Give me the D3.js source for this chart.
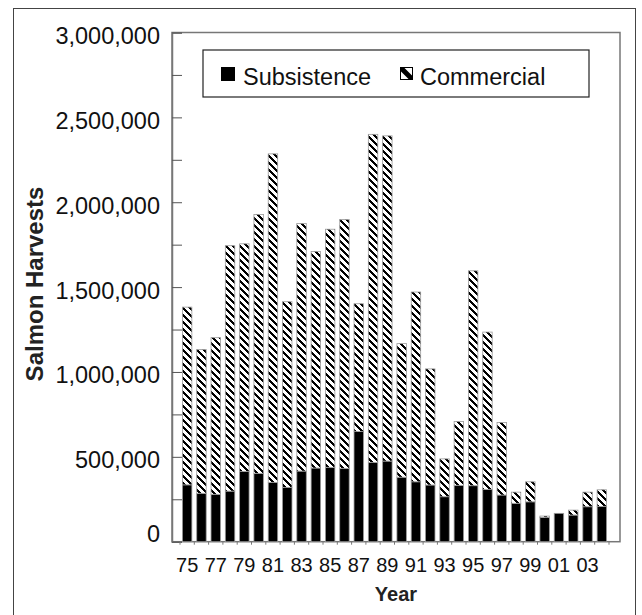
<!DOCTYPE html>
<html>
<head>
<meta charset="utf-8">
<script src="https://cdn.jsdelivr.net/npm/d3@7"></script>
<style>
  html, body { margin: 0; padding: 0; background: #fff; }
  svg { display: block; font-family: Arial, "Liberation Sans", Helvetica, sans-serif; }
</style>
</head>
<body>
<svg id="chart" width="642" height="615"></svg>
<script>
// ---- data ----
const years = ["75","76","77","78","79","80","81","82","83","84","85","86","87","88","89",
               "90","91","92","93","94","95","96","97","98","99","00","01","02","03","04"];
const subsistence = [335000, 285000, 279000, 298000, 414000, 402000, 349000, 320000, 416000, 434000,
                     438000, 432000, 649000, 467000, 475000, 380000, 353000, 334000, 265000, 332000,
                     330000, 308000, 275000, 226000, 235000, 143000, 167000, 157000, 206000, 208000];
const commercial  = [1047000, 847000, 923000, 1446000, 1341000, 1526000, 1936000, 1094000, 1459000, 1276000,
                     1403000, 1466000, 753000, 1933000, 1916000, 787000, 1118000, 684000, 223000, 376000,
                     1266000, 927000, 427000, 66000, 118000, 8000, 0, 29000, 86000, 98000];
const seriesNames = ["Subsistence", "Commercial"];
const yTickValues = [0, 250000, 500000, 750000, 1000000, 1250000, 1500000, 1750000, 2000000,
                     2250000, 2500000, 2750000, 3000000];
const yLabelValues = [0, 500000, 1000000, 1500000, 2000000, 2500000, 3000000];
const xLabelYears = ["75","77","79","81","83","85","87","89","91","93","95","97","99","01","03"];

// ---- layout ----
const svg = d3.select("#chart");
const plot = { left: 172, right: 620, top: 32.5, bottom: 541.7 };

// crisp pixel hatch: "\" stripes, 7px period, 3px black
const defs = svg.append("defs");
const P = 7;
const pat = defs.append("pattern")
  .attr("id", "hatch").attr("patternUnits", "userSpaceOnUse")
  .attr("width", P).attr("height", P);
pat.append("rect").attr("width", P).attr("height", P).attr("fill", "#fff");
const cells = [];
d3.range(P).forEach(r => d3.range(3).forEach(k => cells.push([(r + k) % P, r])));
pat.selectAll("rect.px").data(cells).join("rect").attr("class", "px")
  .attr("x", d => d[0]).attr("y", d => d[1]).attr("width", 1).attr("height", 1)
  .attr("fill", "#000").attr("shape-rendering", "crispEdges");

// outer border
svg.append("rect").attr("x", 13.5).attr("y", 8.5).attr("width", 622).attr("height", 620)
  .attr("fill", "none").attr("stroke", "#444").attr("stroke-width", 1);

const x = d3.scaleBand().domain(years).range([180, 609]).paddingInner(0.34).paddingOuter(0.17);
const y = d3.scaleLinear().domain([0, 3000000]).range([plot.bottom, plot.top]);

const rows = years.map((yr, i) => ({ year: yr, Subsistence: subsistence[i], Commercial: commercial[i] }));
const stacked = d3.stack().keys(seriesNames)(rows);

// plot frame
svg.append("rect").attr("x", plot.left).attr("y", plot.top)
  .attr("width", plot.right - plot.left).attr("height", plot.bottom - plot.top)
  .attr("fill", "none").attr("stroke", "#777").attr("stroke-width", 1.5);

// bars
const fills = { Subsistence: "#000", Commercial: "url(#hatch)" };
svg.append("g").selectAll("g").data(stacked).join("g")
  .attr("fill", d => fills[d.key])
  .selectAll("rect").data(d => d.filter(p => p[1] - p[0] > 0)).join("rect")
  .attr("x", d => x(d.data.year))
  .attr("width", x.bandwidth())
  .attr("y", d => y(d[1]))
  .attr("height", d => y(d[0]) - y(d[1]))
  .attr("stroke", "#999").attr("stroke-width", 0.8);

// y axis
const yAxis = svg.append("g").attr("transform", `translate(${plot.left},0)`)
  .call(d3.axisRight(y).tickValues(yTickValues).tickSize(10).tickFormat(""));
yAxis.select(".domain").attr("stroke", "#777").attr("stroke-width", 1.5);
yAxis.selectAll(".tick line").attr("stroke", "#555");

svg.append("g").selectAll("text").data(yLabelValues).join("text")
  .attr("x", 160)
  .attr("y", d => d === 0 ? y(d) : y(d) + 11.5)
  .attr("text-anchor", "end")
  .attr("font-size", 23.5)
  .attr("fill", "#111")
  .text(d => d3.format(",")(d));

// x axis ticks at category boundaries
const step = x.step();
const gap = step - x.bandwidth();
const boundaries = years.map(yr => x(yr) - gap / 2).concat([x(years[years.length - 1]) + x.bandwidth() + gap / 2]);
svg.append("g").selectAll("line").data(boundaries).join("line")
  .attr("x1", d => d).attr("x2", d => d)
  .attr("y1", plot.bottom).attr("y2", plot.bottom + 3)
  .attr("stroke", "#777").attr("stroke-width", 1);

svg.append("g").selectAll("text").data(xLabelYears).join("text")
  .attr("x", d => x(d) + x.bandwidth() / 2)
  .attr("y", 572)
  .attr("text-anchor", "middle")
  .attr("font-size", 20)
  .attr("fill", "#111")
  .text(d => d);

// axis titles
svg.append("text")
  .attr("x", (plot.left + plot.right) / 2).attr("y", 601)
  .attr("text-anchor", "middle").attr("font-size", 20).attr("font-weight", "bold")
  .attr("fill", "#222")
  .text("Year");
svg.append("text")
  .attr("transform", "translate(43,284) rotate(-90)")
  .attr("text-anchor", "middle").attr("font-size", 24).attr("font-weight", "bold")
  .attr("fill", "#222")
  .text("Salmon Harvests");

// legend
const lg = svg.append("g");
lg.append("rect").attr("x", 203).attr("y", 50).attr("width", 386).attr("height", 47)
  .attr("fill", "#fff").attr("stroke", "#222").attr("stroke-width", 1.2);
lg.append("rect").attr("x", 221).attr("y", 67).attr("width", 14).attr("height", 14).attr("fill", "#000");
lg.append("text").attr("x", 243).attr("y", 84.5).attr("font-size", 23.5).attr("fill", "#111").text(seriesNames[0]);
lg.append("rect").attr("x", 400.5).attr("y", 67.5).attr("width", 12).attr("height", 12)
  .attr("fill", "#fff").attr("stroke", "#000").attr("stroke-width", 1);
lg.append("path").attr("d", "M400.5,67.5 L404,67.5 L412.5,76 L412.5,79.5 L409,79.5 L400.5,71 Z").attr("fill", "#000");
lg.append("text").attr("x", 420).attr("y", 84.5).attr("font-size", 23.5).attr("fill", "#111").text(seriesNames[1]);
</script>
</body>
</html>
